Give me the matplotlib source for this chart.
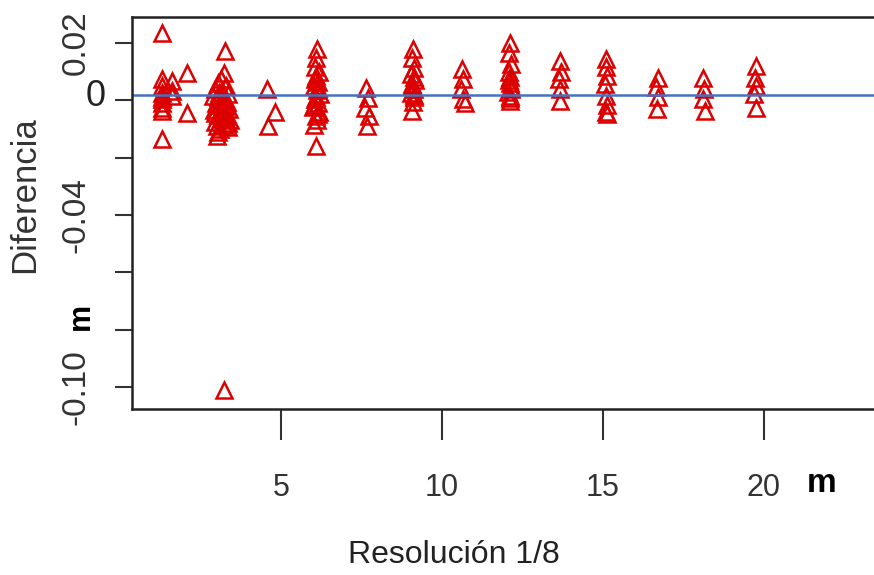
import matplotlib
matplotlib.use('Agg')
import matplotlib.pyplot as plt

# differences per resolution (m)
res_values = [1.30, 1.30, 1.30, 1.30, 1.30, 1.30, 1.30, 1.30, 1.30, 1.30,
              1.61, 1.61, 1.61, 2.08, 2.08,
              3.26, 3.24, 3.05, 3.12, 3.30, 2.95, 3.15, 3.35, 2.90, 3.05,
              3.20, 3.32, 2.98, 3.10, 3.25, 3.38, 2.92, 3.18, 3.05, 3.30,
              3.12, 3.40, 2.96, 3.22, 3.35, 3.05, 3.00, 3.23,
              3.08, 3.28, 2.94, 3.16, 3.36, 3.02, 3.20, 3.10,
              4.55, 4.80, 4.58,
              6.12, 6.10, 6.05, 6.18, 6.08, 6.15, 6.02, 6.12, 6.20, 6.05,
              6.14, 6.00, 6.18, 6.08, 6.12, 6.03, 6.10,
              6.06, 6.16, 6.10, 6.02, 6.14,
              7.65, 7.70, 7.62, 7.72, 7.68,
              9.10, 9.08, 9.12, 9.05, 9.15, 9.08, 9.12, 9.04, 9.14, 9.10, 9.06,
              9.12, 9.06, 9.14,
              10.62, 10.66, 10.60, 10.64, 10.70,
              12.11, 12.09, 12.13, 12.07, 12.12, 12.10, 12.15, 12.06, 12.12, 12.10,
              12.08, 12.14, 12.10,
              13.66, 13.70, 13.64, 13.68, 13.66,
              15.10, 15.08, 15.12, 15.06, 15.10, 15.14, 15.08, 15.12,
              16.70, 16.66, 16.72, 16.68,
              18.12, 18.14, 18.10, 18.16,
              19.75, 19.72, 19.76, 19.70, 19.74]
diff_values = [0.0235, 0.0073, 0.0049, 0.0024, 0.0010, 0.0003, -0.0010, -0.0028, -0.0038, -0.0136,
               0.0066, 0.0031, 0.0015, 0.0094, -0.0045,
               0.0171, 0.0094, 0.0060, 0.0075, 0.0050, 0.0040, 0.0030, 0.0020, 0.0015, 0.0010,
               0.0005, -0.0005, -0.0010, -0.0015, -0.0020, -0.0030, -0.0035, -0.0040, -0.0050, -0.0055,
               -0.0065, -0.0070, -0.0075, -0.0085, -0.0095, -0.0110, -0.0126, -0.1010,
               0.0025, -0.0012, -0.0045, -0.0060, -0.0080, -0.0090, 0.0000, -0.0100,
               0.0038, -0.0040, -0.0090,
               0.0178, 0.0147, 0.0115, 0.0100, 0.0085, 0.0065, 0.0050, 0.0035, 0.0020, 0.0005,
               -0.0010, -0.0025, -0.0040, -0.0055, -0.0070, -0.0085, -0.0160,
               0.0075, 0.0042, 0.0012, -0.0018, -0.0048,
               0.0042, 0.0008, -0.0028, -0.0055, -0.0090,
               0.0178, 0.0147, 0.0112, 0.0090, 0.0070, 0.0055, 0.0040, 0.0025, 0.0010, -0.0005, -0.0038,
               0.0080, 0.0048, 0.0018,
               0.0108, 0.0073, 0.0040, 0.0003, -0.0010,
               0.0200, 0.0164, 0.0125, 0.0100, 0.0080, 0.0060, 0.0045, 0.0030, 0.0015, -0.0003,
               0.0070, 0.0038, 0.0008,
               0.0136, 0.0100, 0.0075, 0.0040, -0.0003,
               0.0143, 0.0115, 0.0085, 0.0055, 0.0015, -0.0015, -0.0040, -0.0049,
               0.0077, 0.0045, 0.0010, -0.0031,
               0.0077, 0.0040, 0.0005, -0.0038,
               0.0119, 0.0078, 0.0050, 0.0020, -0.0028]
mean_line = 0.0017

x_ticks = [5, 10, 15, 20]
x_ticklabels = ['5', '10', '15', '20']
y_ticks = [0.02, 0.0, -0.02, -0.04, -0.06, -0.08, -0.10]
y_ticklabels = ['0.02', '', '', '-0.04', '', '', '-0.10']

W, H = 874, 575
fig = plt.figure(figsize=(W / 100, H / 100), dpi=100)
ax = fig.add_axes([132 / W, 1 - 409 / H, 1 - 132 / W, (409 - 17) / H])

ax.plot(res_values, diff_values, linestyle='none', marker='^', markersize=11.5,
        markerfacecolor='none', markeredgecolor='#dd0000', markeredgewidth=1.8)
ax.axhline(mean_line, color='#4472c4', lw=1.8)

ax.set_xlim(0.37, 23.42)
ax.set_ylim(-0.1076, 0.029)

for side in ['left', 'top', 'bottom']:
    ax.spines[side].set_linewidth(1.8)
    ax.spines[side].set_color('#222222')
ax.spines['right'].set_visible(False)

ax.set_xticks(x_ticks)
ax.set_xticklabels(x_ticklabels, family='Liberation Sans', fontsize=22,
                   color='#333333')
ax.tick_params(axis='x', length=22, width=1.5, color='#333333', pad=24)

ax.set_yticks(y_ticks)
ax.set_yticklabels(y_ticklabels, family='Liberation Sans', fontsize=24,
                   color='#333333', rotation=90, va='center')
ax.tick_params(axis='y', length=12, width=1.5, color='#333333', pad=17)

# upright zero label and the unit marks
fig.text(96 / W, 1 - 97 / H, '0', family='Liberation Sans', fontsize=26,
         ha='center', va='center', color='#222222')
fig.text(81 / W, 1 - 316 / H, 'm', family='Liberation Sans', fontsize=22,
         fontweight='bold', rotation=90, ha='center', va='center', color='black')
fig.text(822 / W, 1 - 483 / H, 'm', family='Liberation Sans', fontsize=24,
         fontweight='bold', ha='center', va='center', color='black')

fig.text(25 / W, 1 - 195 / H, 'Diferencia', family='Liberation Sans', fontsize=25,
         rotation=90, ha='center', va='center', color='#333333')
fig.text(454 / W, 1 - 555 / H, 'Resolución 1/8', family='Liberation Sans',
         fontsize=23, ha='center', va='center', color='#222222')

fig.savefig('out.png', dpi=100)
